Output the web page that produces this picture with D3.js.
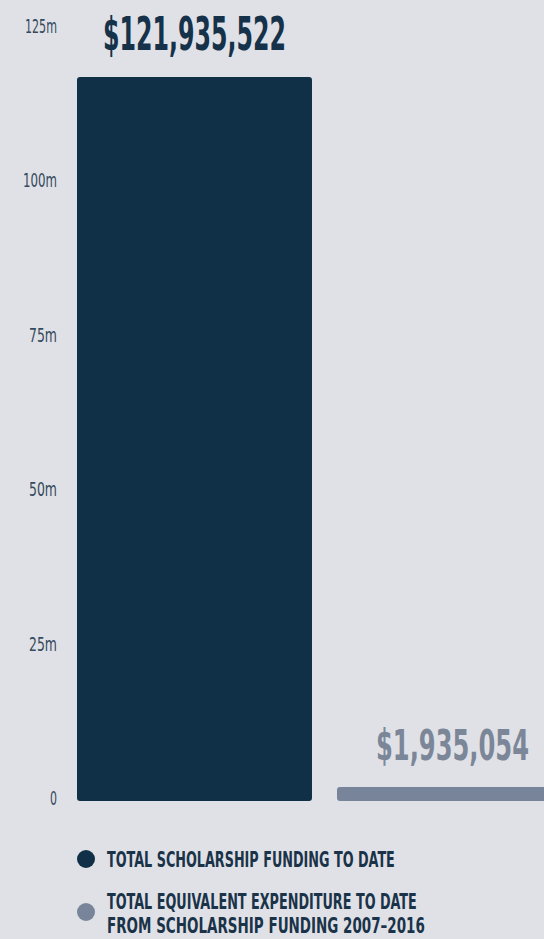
<!DOCTYPE html>
<html>
<head>
<meta charset="utf-8">
<script src="https://cdn.jsdelivr.net/npm/d3@7"></script>
<style>
  html, body { margin: 0; padding: 0; background: #e0e1e6; }
  svg { display: block; }
  text { font-family: "DejaVu Sans Condensed", "DejaVu Sans", sans-serif; }
</style>
</head>
<body>
<svg id="chart" width="544" height="939"></svg>
<script>
// ---- data ----
const categories = ["TOTAL SCHOLARSHIP FUNDING TO DATE", "TOTAL EQUIVALENT EXPENDITURE TO DATE FROM SCHOLARSHIP FUNDING 2007–2016"];
const values = [121935522, 1935054];
const valueLabels = ["$121,935,522", "$1,935,054"];
const tickValues = [0, 25e6, 50e6, 75e6, 100e6, 125e6];
const tickLabels = ["0", "25m", "50m", "75m", "100m", "125m"];
const legendLines = [["TOTAL SCHOLARSHIP FUNDING TO DATE"], ["TOTAL EQUIVALENT EXPENDITURE TO DATE", "FROM SCHOLARSHIP FUNDING 2007–2016"]];

// ---- styles ----
const barColors = ["#0f3047", "#77849a"];
const labelColors = ["#15324a", "#7b8799"];
const svg = d3.select("#chart");

svg.append("rect").attr("width", 544).attr("height", 939).attr("fill", "#e0e1e6");

// place a text horizontally squeezed to a given width
function fitText(sel, anchorX, baseY, width, anchor) {
  const node = sel.node();
  const w = node.getComputedTextLength();
  const s = width / w;
  let left = anchorX;
  if (anchor === "middle") left = anchorX - width / 2;
  if (anchor === "end") left = anchorX - width;
  sel.attr("x", 0).attr("y", 0).attr("text-anchor", "start")
    .attr("transform", `translate(${left},${baseY}) scale(${s},1)`);
}

const x = d3.scaleBand().domain(categories).range([77, 572]).paddingInner(0.0962).paddingOuter(0);
const yBar = d3.scaleLinear().domain([0, values[0]]).range([801, 77]);
const yAxis = d3.scaleLinear().domain([0, 125e6]).range([798, 25.5]);

// axis tick labels
const axisG = svg.append("g");
const tickWidths = [7, 28, 28, 28, 34, 32];
tickValues.forEach((v, i) => {
  const t = axisG.append("text")
    .attr("font-size", 19)
    .attr("fill", "#34495c")
    .text(tickLabels[i]);
  fitText(t, 57, yAxis(v) + 7, tickWidths[i], "end");
});

// bars
const clip = svg.append("clipPath").attr("id", "clip").append("rect")
  .attr("x", 0).attr("y", 0).attr("width", 544).attr("height", 939);
svg.append("g").attr("clip-path", "url(#clip)")
  .selectAll("rect").data(values).join("rect")
  .attr("x", (d, i) => x(categories[i]))
  .attr("y", d => Math.min(yBar(d), yBar(0) - 14))
  .attr("width", x.bandwidth())
  .attr("height", d => Math.max(14, yBar(0) - yBar(d)))
  .attr("rx", 3)
  .attr("fill", (d, i) => barColors[i]);

// value labels
const valG = svg.append("g");
values.forEach((v, i) => {
  const t = valG.append("text")
    .attr("font-weight", "bold")
    .attr("font-size", i === 0 ? 46 : 42)
    .attr("fill", labelColors[i])
    .text(valueLabels[i]);
  fitText(t, x(categories[i]) + x.bandwidth() / 2 - (i === 1 ? 2 : 0), i === 0 ? 50 : 760, i === 0 ? 183 : 153, "middle");
});

// legend
const legend = svg.append("g");
const legendY = [859, 912];
const lineWidths = [[288], [310, 318]];
categories.forEach((c, i) => {
  legend.append("circle").attr("cx", 86).attr("cy", legendY[i]).attr("r", 9).attr("fill", barColors[i]);
  const lines = legendLines[i];
  lines.forEach((ln, j) => {
    const baseline = lines.length === 1 ? legendY[i] + 8 : [909, 933][j];
    const t = legend.append("text")
      .attr("font-size", 21)
      .attr("font-weight", "bold")
      .attr("fill", "#1a3349")
      .text(ln);
    fitText(t, 107, baseline, lineWidths[i][j], "start");
  });
});
</script>
</body>
</html>
